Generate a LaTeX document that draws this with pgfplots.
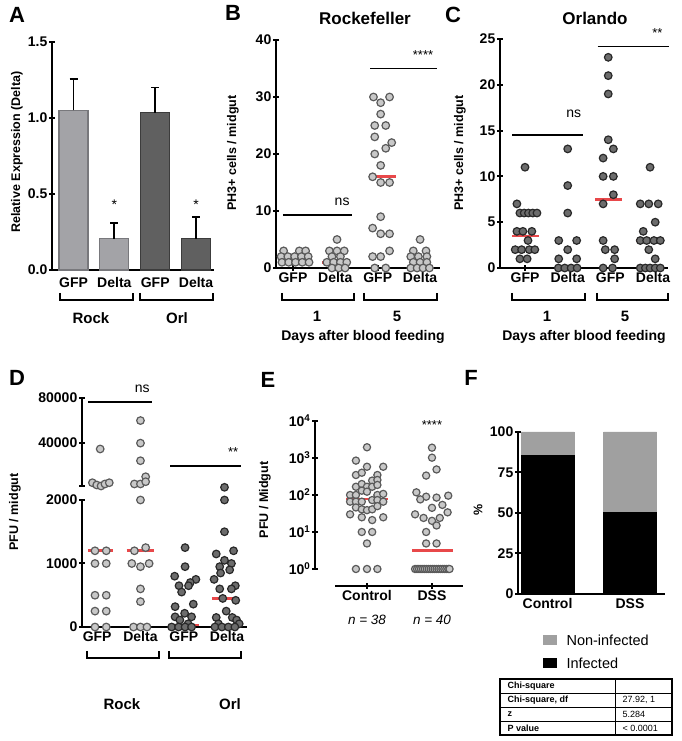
\documentclass[border=0pt]{standalone}
\usepackage{fontspec}
\setmainfont{Liberation Sans}
\usepackage{pgfplots}
\pgfplotsset{compat=1.18}
\definecolor{dotL}{RGB}{200,200,200}
\definecolor{edgeL}{RGB}{90,90,90}
\definecolor{dotD}{RGB}{108,108,108}
\definecolor{edgeD}{RGB}{40,40,40}
\definecolor{medred}{RGB}{232,72,74}
\definecolor{barL}{RGB}{163,163,167}
\definecolor{barLe}{RGB}{120,120,124}
\definecolor{barD}{RGB}{96,96,96}
\definecolor{barDe}{RGB}{60,60,60}
\definecolor{nonInf}{RGB}{160,160,160}
\newcommand{\fs}[1]{\fontsize{#1}{#1}\selectfont}
\pgfplotsset{
  every axis/.append style={scale only axis, clip=false, anchor=south west,
    tick align=outside, major tick length=6pt,
    tick style={black, line width=2pt},
    tick label style={font=\fs{14}\bfseries, inner sep=1.5pt},
    scaled ticks=false, /pgf/number format/assume math mode=true},
  lin/.style={axis line style={-, line width=2.2pt, black}},
  ldot/.style={only marks, mark=*, mark size=3.8pt, mark options={fill=dotL, draw=edgeL, line width=1.2pt}},
  ddot/.style={only marks, mark=*, mark size=3.8pt, mark options={fill=dotD, draw=edgeD, line width=1.2pt}},
  med/.style={no marks, draw=medred, line width=2.8pt},
}
\begin{document}
\begin{tikzpicture}[x=1pt,y=1pt]
\path[use as bounding box] (0,0) rectangle (681,741);

% ---------------- Panel A ----------------
\begin{axis}[at={(52pt,471pt)}, width=162pt, height=228pt,
  axis lines=left, lin, xmin=0.473, xmax=4.44, ymin=0, ymax=1.5,
  ytick={0,0.5,1,1.5}, yticklabels={0.0,0.5,1.0,1.5},
  xtick={1,2,3,4}, xticklabels={GFP,Delta,GFP,Delta}, x tick style={draw=none},
  ybar, bar width=29pt, bar shift=0pt]
\addplot[fill=barL, draw=barLe, line width=1.2pt,
  error bars/.cd, y dir=plus, y explicit, error mark=|,
  error bar style={line width=1.8pt,black}, error mark options={line width=1.8pt,black,mark size=4pt}]
  coordinates {(1,1.05) +- (0,0.205) (2,0.205) +- (0,0.105)};
\addplot[fill=barD, draw=barDe, line width=1.2pt,
  error bars/.cd, y dir=plus, y explicit, error mark=|,
  error bar style={line width=1.8pt,black}, error mark options={line width=1.8pt,black,mark size=4pt}]
  coordinates {(3,1.035) +- (0,0.165) (4,0.205) +- (0,0.145)};
\node[font=\fs{14}] at (axis cs:2,0.43) {*};
\node[font=\fs{14}] at (axis cs:4,0.43) {*};
\end{axis}

% ---------------- Panel B ----------------
\begin{axis}[at={(276pt,473pt)}, width=164pt, height=228pt,
  axis lines=left, lin, xmin=0.6, xmax=4.47, ymin=0, ymax=40,
  ytick={0,10,20,30,40},
  xtick={1,2,3,4}, xticklabels={GFP,Delta,GFP,Delta}]
\addplot[ldot] coordinates {
(0.78,3)(1.15,3)(1.3,3)
(0.72,2)(0.88,2)(1.04,2)(1.2,2)(1.36,2)
(0.74,1)(0.9,1)(1.06,1)(1.22,1)(1.38,1)};
\addplot[ldot] coordinates {
(2.04,5)(1.86,3)(2.04,3)(2.21,3)(1.92,2)(2.12,2)
(1.8,1)(1.96,1)(2.12,1)(2.27,1)(1.92,0)(2.08,0)(2.23,0)};
\addplot[ldot] coordinates {
(2.9,30)(3.28,30)(3.07,29)(3.07,27)(2.93,25)(3.19,25)(2.93,23)(3.33,22)
(3.19,21)(2.93,20)(3.07,18)(2.88,16)(3.07,15)(3.28,15)(3.07,9)(2.88,7)
(3.07,6)(3.28,6)(3.28,3)(2.88,2)(3.07,2)(2.93,0)(3.19,0)};
\addplot[ldot] coordinates {
(4,5)(3.84,3)(4.14,3)(3.78,2)(3.96,2)(4.16,2)(3.84,1)(4,1)(4.16,1)
(3.78,0)(3.93,0)(4.07,0)(4.22,0)};
\addplot[med] coordinates {(0.76,1)(1.4,1)};
\addplot[med] coordinates {(1.69,1)(2.35,1)};
\addplot[med] coordinates {(2.8,16)(3.42,16)};
\addplot[med] coordinates {(3.76,0.2)(4.31,0.2)};
\draw[line width=1.5pt] (axis cs:0.76,9.3) -- (axis cs:2.39,9.3);
\node[font=\fs{14}] at (axis cs:2.16,11.6) {ns};
\draw[line width=1.5pt] (axis cs:2.82,35) -- (axis cs:4.4,35);
\node[font=\fs{13}] at (axis cs:4.07,37.3) {****};
\end{axis}

% ---------------- Panel C ----------------
\begin{axis}[at={(500pt,473pt)}, width=168pt, height=229pt,
  axis lines=left, lin, xmin=0.414, xmax=4.35, ymin=0, ymax=25,
  ytick={0,5,10,15,20,25},
  xtick={1,2,3,4}, xticklabels={GFP,Delta,GFP,Delta}]
\addplot[ddot] coordinates {
(1,11)(0.81,7)(0.88,6)(0.98,6)(1.08,6)(1.18,6)(1.28,6)
(0.81,4)(0.95,4)(1.16,4)(1.07,3)
(0.77,2)(0.92,2)(1.1,2)(1.23,2)(0.88,1)(1.05,1)};
\addplot[ddot] coordinates {
(2,13)(2,9)(2,6)(1.79,3)(2.21,3)(2,2)(1.79,1)(2.21,1)
(1.78,0)(1.93,0)(2.08,0)(2.22,0)};
\addplot[ddot] coordinates {
(2.95,23)(2.95,21)(2.95,19)(2.95,14)(3.07,13)(2.83,12)(2.83,10)(3.07,10)
(3.07,8)(2.83,7)(2.83,3)(2.88,2)(3.1,2)(3.1,1)(2.83,0)(3.05,0)};
\addplot[ddot] coordinates {
(3.93,11)(3.7,7)(3.9,7)(4.12,7)(4.05,5)(3.77,4)(3.7,3)(3.85,3)(4.02,3)(4.17,3)
(3.9,2)(4.05,1)(3.7,0)(3.82,0)(3.93,0)(4.05,0)(4.17,0)};
\addplot[med] coordinates {(0.7,3.5)(1.33,3.5)};
\addplot[med] coordinates {(1.7,0.1)(2.3,0.1)};
\addplot[med] coordinates {(2.65,7.5)(3.27,7.5)};
\addplot[med] coordinates {(3.6,3)(4.24,3)};
\draw[line width=1.5pt] (axis cs:0.7,14.5) -- (axis cs:2.36,14.5);
\node[font=\fs{14}] at (axis cs:2.14,16.8) {ns};
\draw[line width=1.5pt] (axis cs:2.7,24.2) -- (axis cs:4.37,24.2);
\node[font=\fs{13}] at (axis cs:4.1,25.7) {**};
\end{axis}

% ---------------- Panel D (lower) ----------------
\begin{axis}[at={(82pt,114pt)}, width=165pt, height=127pt,
  axis lines=left, lin, xmin=0.65, xmax=4.46, ymin=0, ymax=2000,
  ytick={0,1000,2000}, yticklabels={0,1000,2000},
  xtick={1,2,3,4}, xticklabels={GFP,Delta,GFP,Delta}]
\addplot[ldot] coordinates {
(0.95,1200)(1.21,1200)(0.95,1000)(1.21,1000)(0.95,500)(1.21,500)
(0.95,250)(1.21,250)(0.95,0)(1.21,0)};
\addplot[ldot] coordinates {
(2,2000)(2.12,1250)(1.86,1200)(1.8,1000)(2,950)(2.2,1000)(2,600)(2,400)
(1.84,0)(2,0)(2.15,0)};
\addplot[ddot] coordinates {
(3.03,1250)(3.03,950)(2.79,800)(3.28,750)(3.15,700)(2.89,650)(3.11,650)(2.95,550)
(2.8,320)(3.22,360)(3.02,216)(2.8,160)(3.18,160)(2.91,110)(3.1,50)
(2.72,0)(2.88,0)(3.03,0)(3.18,0)};
\addplot[ddot] coordinates {
(3.94,2200)(3.94,2000)(3.94,1500)(4.15,1200)(3.75,1150)(3.94,1050)(4.1,1000)
(3.83,950)(4.06,900)(3.85,850)(3.7,750)(4.19,650)(3.83,600)(4.1,600)
(3.9,450)(4.2,420)(3.98,250)(3.75,150)(4.12,150)(4.22,110)(3.8,50)(4.28,50)
(3.72,0)(3.88,0)(4.03,0)(4.18,0)};
\addplot[med] coordinates {(0.8,1200)(1.37,1200)};
\addplot[med] coordinates {(1.68,1200)(2.32,1200)};
\addplot[med] coordinates {(2.72,30)(3.35,30)};
\addplot[med] coordinates {(3.65,450)(4.26,450)};
\end{axis}

% ---------------- Panel D (upper) ----------------
\begin{axis}[at={(82pt,255pt)}, width=165pt, height=88pt,
  axis x line=none, axis y line=left, lin, xmin=0.65, xmax=4.46, ymin=2000, ymax=80000,
  ytick={2000,40000,80000}, yticklabels={,40000,80000}]
\addplot[ldot] coordinates {
(1.07,34800)(0.89,4900)(0.99,2900)(1.09,2000)(1.18,3800)(1.28,4900)};
\addplot[ldot] coordinates {
(2,60000)(2,40000)(2,24400)(2.12,10200)(1.86,3800)(2,3800)(2.12,5800)};
\draw[line width=1.5pt] (axis cs:0.79,76500) -- (axis cs:2.27,76500);
\node[font=\fs{14}] at (axis cs:2.04,88000) {ns};
\draw[line width=1.5pt] (axis cs:2.69,19700) -- (axis cs:4.33,19700);
\node[font=\fs{13}] at (axis cs:4.14,32000) {**};
\end{axis}

% ---------------- Panel E ----------------
\begin{axis}[at={(335pt,172pt)}, width=128pt, height=148pt,
  ymode=log, ymin=1, ymax=10000, xmin=0.508, xmax=2.477,
  axis x line=bottom, axis y line=left, lin,
  axis x line shift=17pt, axis y line shift=20pt, yminorticks=false,
  xtick={1,2}, xticklabels={Control,DSS},
  ytick={1,10,100,1000,10000},
  yticklabels={10\textsuperscript{0},10\textsuperscript{1},10\textsuperscript{2},10\textsuperscript{3},10\textsuperscript{4}}]
\addplot[ldot, mark size=3.6pt] coordinates {
(1,1950)(0.83,850)(1,580)(1.25,580)(0.83,347)(0.92,400)(1.16,347)
(1.08,245)(1.16,255)(0.83,167)(0.92,198)(1,167)(1.08,167)(1.16,187)
(0.74,100)(0.83,100)(0.92,131)(1,123)(1.16,100)(1.25,107)
(0.74,66)(0.83,66)(0.92,66)(1.08,73)(1.16,73)(1.25,66)
(0.83,46)(0.92,41)(1,39)(1.08,41)(1.16,50)
(0.74,30)(0.92,25)(1.08,21)(1.25,25)(0.92,10)(1.08,10)(1,4.9)
(0.83,1)(1,1)(1.16,1)};
\addplot[ldot, mark size=3.6pt] coordinates {
(2,1900)(2,1020)(2.07,490)(1.91,335)(1.76,118)(1.91,90)(1.82,76)(2.07,85)(2.25,96)
(2.16,54)(2,45)(1.74,30)(1.87,24)(2,20)(2.12,24)(2.24,34)(2.07,15)(1.91,10)
(1.91,4.9)(2.07,4.9)
(1.74,1)(1.77,1)(1.80,1)(1.83,1)(1.86,1)(1.89,1)(1.92,1)(1.95,1)(1.98,1)(2.01,1)
(2.04,1)(2.07,1)(2.10,1)(2.13,1)(2.16,1)(2.19,1)(2.22,1)(2.25,1)(2.27,1)};
\addplot[med] coordinates {(0.68,78)(1.33,78)};
\addplot[med] coordinates {(1.7,3.1)(2.32,3.1)};
\node[font=\fs{13}] at (axis cs:2,8000) {****};
\end{axis}

% ---------------- Panel F ----------------
\begin{axis}[at={(518pt,147pt)}, width=147pt, height=162pt,
  axis lines=left, lin, xmin=0.642, xmax=2.424, ymin=0, ymax=100,
  ytick={0,25,50,75,100},
  xtick={1,2}, xticklabels={Control,DSS}, x tick style={draw=none},
  ybar stacked, bar width=53pt]
\addplot[fill=black, draw=black] coordinates {(1,85.5)(2,50.5)};
\addplot[fill=nonInf, draw=nonInf] coordinates {(1,14.5)(2,49.5)};
\end{axis}

% ---------------- Labels and decorations ----------------
\begin{scope}[font=\fs{22}\bfseries]
\node at (17,726) {A};
\node at (233,728) {B};
\node at (453,726) {C};
\node at (17,363) {D};
\node at (268,361) {E};
\node at (471,363) {F};
\end{scope}
\begin{scope}[font=\fs{12.5}\bfseries]
\node[rotate=90] at (17,589) {Relative Expression (Delta)};
\node[rotate=90] at (233,588) {PH3+ cells / midgut};
\node[rotate=90] at (460,588) {PH3+ cells / midgut};
\node[rotate=90] at (15,229) {PFU / midgut};
\node[rotate=90] at (265,241) {PFU / Midgut};
\node[rotate=90] at (478,231) {\%};
\end{scope}
\node[font=\fs{17}\bfseries] at (365,723) {Rockefeller};
\node[font=\fs{17}\bfseries] at (595,723) {Orlando};
\node[font=\fs{14}\bfseries] at (363,404) {Days after blood feeding};
\node[font=\fs{14}\bfseries] at (584,404) {Days after blood feeding};
% brackets
\begin{scope}[line width=1.5pt]
\draw (60,448) -- (60,441) -- (133,441) -- (133,448);
\draw (140,448) -- (140,441) -- (213,441) -- (213,448);
\draw (282,448) -- (282,441) -- (354,441) -- (354,448);
\draw (364,448) -- (364,441) -- (437,441) -- (437,448);
\draw (512,448) -- (512,441) -- (585,441) -- (585,448);
\draw (597,448) -- (597,441) -- (668,441) -- (668,448);
\draw (87,90) -- (87,83) -- (159,83) -- (159,90);
\draw (169,90) -- (169,83) -- (241,83) -- (241,90);
\end{scope}
\begin{scope}[font=\fs{15}\bfseries]
\node at (91,423) {Rock};
\node at (177,423) {Orl};
\node at (317,425) {1};
\node at (397,425) {5};
\node at (547,425) {1};
\node at (625,425) {5};
\node at (122,37) {Rock};
\node at (230,37) {Orl};
\end{scope}
\node[font=\fs{13.5}\itshape] at (367,121) {n = 38};
\node[font=\fs{13.5}\itshape] at (432,121) {n = 40};
% legend F
\fill[nonInf] (543,96) rectangle (557,106);
\node[anchor=west, font=\fs{14.5}] at (563,101) {Non-infected};
\fill[black] (543,73) rectangle (557,83);
\node[anchor=west, font=\fs{14.5}] at (563,78) {Infected};
% table
\draw[line width=0.5pt] (500,48) -- (672,48) (500,34) -- (672,34) (500,20) -- (672,20) (615,6) -- (615,62);
\draw[line width=1.2pt] (500,6) rectangle (672,62);
\begin{scope}[font=\fs{9}]
\node[anchor=west, font=\fs{9}\bfseries] at (504,55) {Chi-square};
\node[anchor=west, font=\fs{9}\bfseries] at (504,41) {Chi-square, df};
\node[anchor=west, font=\fs{9}\bfseries] at (504,27) {z};
\node[anchor=west, font=\fs{9}\bfseries] at (504,13) {P value};
\node[anchor=west] at (619,41) {27.92, 1};
\node[anchor=west] at (619,27) {5.284};
\node[anchor=west] at (619,13) {< 0.0001};
\end{scope}
\end{tikzpicture}
\end{document}
